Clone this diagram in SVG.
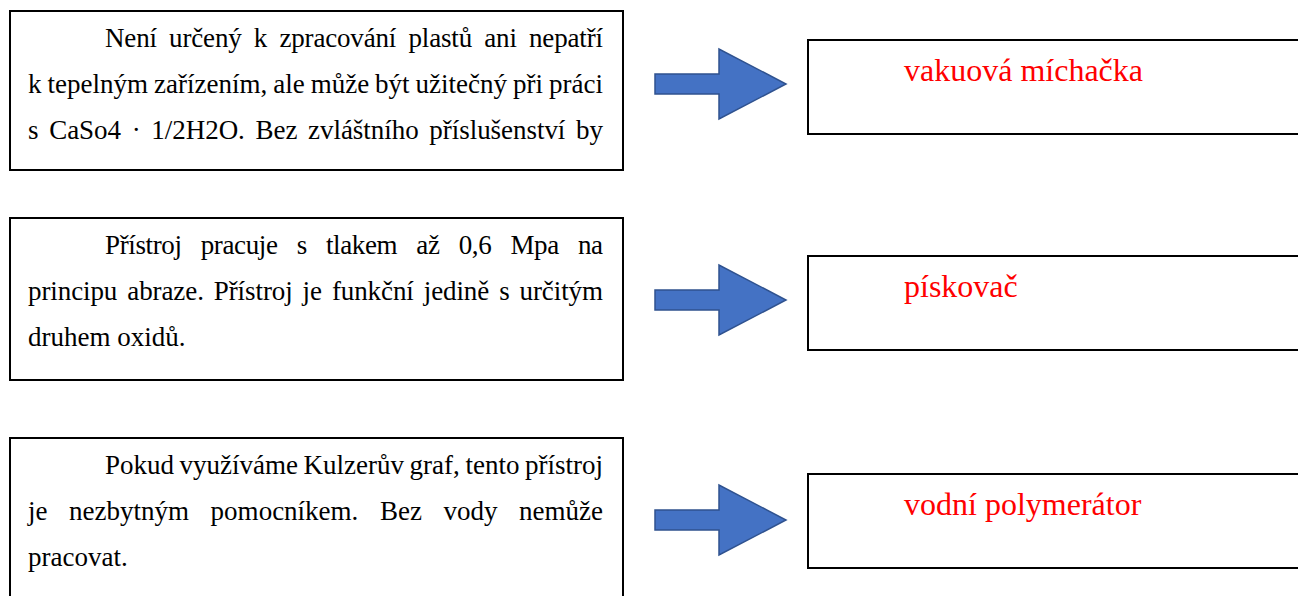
<svg xmlns="http://www.w3.org/2000/svg" width="1298" height="596" viewBox="0 0 1298 596">
<style>
.box{fill:#fff;stroke:#000;stroke-width:2}
.t{font-family:'Liberation Serif','Times New Roman',serif;font-size:27px;fill:#000}
.r{font-family:'Liberation Serif','Times New Roman',serif;font-size:32px;fill:#ff0000}
.arr{fill:#4472C4;stroke:#2F528F;stroke-width:1.5}
</style>
<rect width="1298" height="596" fill="#fff"/>
<g id="desc1">
<rect class="box" x="10" y="11" width="613" height="159"/>
<text class="t" x="105" y="47" style="word-spacing:5.7px" textLength="498" lengthAdjust="spacing">Není určený k zpracování plastů ani nepatří</text>
<text class="t" x="28" y="93" style="word-spacing:-0.8px" textLength="575" lengthAdjust="spacing">k tepelným zařízením, ale může být užitečný při práci</text>
<text class="t" x="28" y="139" style="word-spacing:4px" textLength="575" lengthAdjust="spacing">s CaSo4 · 1/2H2O. Bez zvláštního příslušenství by</text>
</g>
<g id="desc2">
<rect class="box" x="10" y="218" width="613" height="162"/>
<text class="t" x="105" y="254" style="word-spacing:12.7px" textLength="498" lengthAdjust="spacing">Přístroj pracuje s tlakem až 0,6 Mpa na</text>
<text class="t" x="28" y="300" style="word-spacing:3.3px" textLength="575" lengthAdjust="spacing">principu abraze. Přístroj je funkční jedině s určitým</text>
<text class="t" x="28" y="346">druhem oxidů.</text>
</g>
<g id="desc3">
<rect class="box" x="10" y="438" width="613" height="170"/>
<text class="t" x="105" y="474" style="word-spacing:-1.2px" textLength="498" lengthAdjust="spacing">Pokud využíváme Kulzerův graf, tento přístroj</text>
<text class="t" x="28" y="520" style="word-spacing:14.8px" textLength="575" lengthAdjust="spacing">je nezbytným pomocníkem. Bez vody nemůže</text>
<text class="t" x="28" y="566">pracovat.</text>
</g>
<g id="connectors">
<path class="arr" d="M655,74 H719 V49 L786,84 L719,119 V94 H655 Z"/>
<path class="arr" d="M655,290 H719 V265 L786,300 L719,335 V310 H655 Z"/>
<path class="arr" d="M655,510 H719 V485 L786,520 L719,555 V530 H655 Z"/>
</g>
<g id="answer1">
<rect class="box" x="808" y="40" width="510" height="94"/>
<text class="r" x="904" y="81">vakuová míchačka</text>
</g>
<g id="answer2">
<rect class="box" x="808" y="256" width="510" height="94"/>
<text class="r" x="904" y="297">pískovač</text>
</g>
<g id="answer3">
<rect class="box" x="808" y="474" width="510" height="94"/>
<text class="r" x="904" y="515">vodní polymerátor</text>
</g>
</svg>
